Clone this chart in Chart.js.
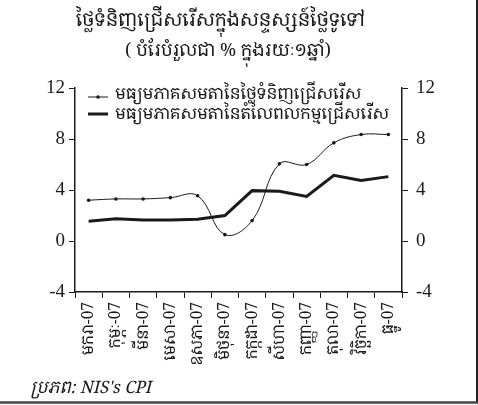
<!DOCTYPE html>
<html><head><meta charset="utf-8">
<script src="https://cdn.jsdelivr.net/npm/chart.js@4/dist/chart.umd.min.js"></script>
<style>html,body{margin:0;padding:0;background:#fff;}#wrap{width:478px;height:405px;position:relative;}</style>
</head><body><div id="wrap"><canvas id="c" width="478" height="405"></canvas></div>
<script>
const months = ['មករា-07','កុម្ភៈ-07','មីនា-07','មេសា-07','ឧសភា-07','មិថុនា-07','កក្កដា-07','សីហា-07','កញ្ញា-07','តុលា-07','វិច្ឆិកា-07','ធ្នូ-07'];
const goodsPrices = [3.2, 3.3, 3.3, 3.4, 3.55, 0.5, 1.6, 6.05, 6.0, 7.7, 8.35, 8.35];
const laborPrices = [1.55, 1.75, 1.65, 1.65, 1.7, 2.0, 3.95, 3.9, 3.5, 5.15, 4.75, 5.05];
const seriesNames = ['មធ្យមភាគសមតានៃថ្លៃទំនិញជ្រើសរើស','មធ្យមភាគសមតានៃតំលៃពលកម្មជ្រើសរើស'];
const titleText = 'ថ្លៃទំនិញជ្រើសរើសក្នុងសន្ទស្សន៍ថ្លៃទូទៅ';
const subtitleText = '( បំរែបំរួលជា % ក្នុងរយៈ១ឆ្នាំ)';
const sourceText = 'ប្រភព: NIS\'s CPI';
const yMin = -4, yMax = 12, yStep = 4;

const KH = "'Noto Serif Khmer','Noto Sans Khmer','Khmer OS','Liberation Serif',serif";
const SERIF = "'Liberation Serif','DejaVu Serif',serif";
const INK = '#1a1a1a';

const decor = {
  id: 'decor',
  afterDraw(chart) {
    const ctx = chart.ctx, ca = chart.chartArea;
    ctx.save();
    ctx.fillStyle = INK; ctx.textBaseline = 'middle'; ctx.textAlign = 'center';
    ctx.font = '19px ' + KH; ctx.fillText(titleText, 221, 21);
    ctx.font = '18px ' + KH; ctx.fillText(subtitleText, 228, 51);
    const lx = ca.left + 13;
    const items = [{y: ca.top + 9, ty: ca.top + 6, w: 1, dot: true}, {y: ca.top + 26, ty: ca.top + 26, w: 3, dot: false}];
    ctx.textAlign = 'left';
    items.forEach((it, i) => {
      ctx.strokeStyle = INK; ctx.lineWidth = it.w;
      ctx.beginPath(); ctx.moveTo(lx, it.y); ctx.lineTo(lx + 20, it.y); ctx.stroke();
      if (it.dot) { ctx.beginPath(); ctx.arc(lx + 10, it.y, 1.8, 0, Math.PI * 2); ctx.fill(); }
      ctx.font = '16.5px ' + KH;
      ctx.fillText(chart.data.datasets[i].label, lx + 27, it.ty);
    });
    ctx.font = 'italic 17px ' + KH;
    ctx.fillText(sourceText, 30, 388);
    ctx.strokeStyle = '#222'; ctx.lineWidth = 2;
    ctx.beginPath(); ctx.moveTo(477, 0); ctx.lineTo(477, 403); ctx.stroke();
    ctx.strokeStyle = '#444'; ctx.lineWidth = 2.5;
    ctx.beginPath(); ctx.moveTo(0, 402.5); ctx.lineTo(478, 402.5); ctx.stroke();
    ctx.restore();
  }
};

const yAxis = (pos) => ({
  type: 'linear', position: pos, min: yMin, max: yMax,
  grid: {drawOnChartArea: false, drawTicks: true, tickLength: 6, color: INK},
  border: {display: true, color: INK, width: 1.5},
  ticks: {stepSize: yStep, color: INK, padding: pos === 'left' ? 4 : 8, font: {family: SERIF, size: 19}},
  afterFit(s) { s.width = pos === 'left' ? 75 : 76; }
});

new Chart(document.getElementById('c'), {
  type: 'line',
  data: {
    labels: months,
    datasets: [
      {label: seriesNames[0], data: goodsPrices, borderColor: INK, backgroundColor: INK, borderWidth: 1, tension: 0.4,
       pointRadius: 1.8, pointBackgroundColor: INK, pointBorderWidth: 0, yAxisID: 'y'},
      {label: seriesNames[1], data: laborPrices, borderColor: INK, borderWidth: 3, tension: 0, pointRadius: 0, yAxisID: 'y'}
    ]
  },
  options: {
    responsive: false, animation: false, devicePixelRatio: 1,
    layout: {padding: {left: 0, right: 0, top: 88, bottom: 33}},
    plugins: {
      legend: {display: false},
      tooltip: {enabled: false},
      title: {display: false},
      subtitle: {display: false}
    },
    scales: {
      x: {
        offset: true,
        grid: {offset: true, drawOnChartArea: false, drawTicks: true, tickLength: 6, color: INK},
        border: {display: true, color: INK, width: 1.5},
        ticks: {color: INK, minRotation: 90, maxRotation: 90, autoSkip: false, padding: 4, font: {family: KH, size: 15.5}},
        afterFit(s) { s.height = 80; }
      },
      y: yAxis('left'),
      y2: yAxis('right')
    }
  },
  plugins: [decor]
});
</script></body></html>
